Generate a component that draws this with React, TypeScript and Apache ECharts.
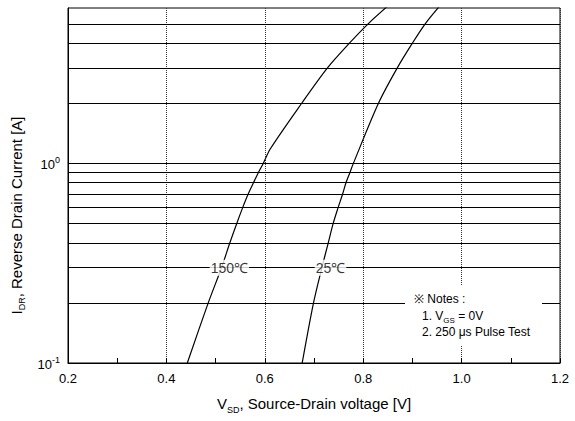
import React, { useEffect, useRef } from "react";
import * as echarts from "echarts";

// Curve data: [V_SD (V), I_DR (A)]
const curve150C: [number, number][] = [
  [0.4425, 0.1], [0.485, 0.2], [0.512, 0.3], [0.529, 0.4], [0.543, 0.5], [0.555, 0.6],
  [0.566, 0.7], [0.577, 0.8], [0.587, 0.9], [0.597, 1.0], [0.611, 1.18], [0.675, 2.0],
  [0.727, 3.0], [0.772, 4.0], [0.81, 5.0], [0.848, 6.08],
];
const curve25C: [number, number][] = [
  [0.676, 0.1], [0.699, 0.2], [0.716, 0.3], [0.729, 0.4], [0.739, 0.5], [0.749, 0.6],
  [0.758, 0.7], [0.765, 0.8], [0.773, 0.9], [0.78, 1.0], [0.831, 2.0],
  [0.869, 3.0], [0.9, 4.0], [0.926, 5.0], [0.954, 6.08],
];
const hGridValues = [0.2, 0.3, 0.4, 0.5, 0.6, 0.7, 0.8, 0.9, 1, 2, 3, 4, 5];
const curveLabels: [number, number, string][] = [
  [0.528, 0.3, "150℃"],
  [0.7335, 0.3, "25℃"],
];
const xMin = 0.2, xMax = 1.2, xStep = 0.2;
const yMin = 0.1, yMax = 6;

const FONT = "'Liberation Sans', Arial, sans-serif";

export default function App() {
  const ref = useRef<HTMLDivElement>(null);
  useEffect(() => {
    if (!ref.current) return;
    const chart = echarts.init(ref.current, undefined, { renderer: "svg" });
    const curveLine = { color: "#000", width: 1.2 };
    chart.setOption({
      animation: false,
      backgroundColor: "#fff",
      textStyle: { fontFamily: FONT },
      grid: { left: 68, top: 8, right: 15, bottom: 58, show: true, borderColor: "#000", borderWidth: 1, backgroundColor: "transparent" },
      xAxis: {
        type: "value", min: xMin, max: xMax, interval: xStep,
        axisLine: { show: true, lineStyle: { color: "#000", width: 1 } },
        axisTick: { show: true, inside: true, length: 5, lineStyle: { color: "#000" } },
        minorTick: { show: true, splitNumber: 2, length: 5, lineStyle: { color: "#000" } },
        splitLine: { show: true, lineStyle: { color: "#333", type: "dotted", width: 1 } },
        axisLabel: { color: "#000", fontSize: 13, margin: 9, fontFamily: FONT, formatter: (v: number) => v.toFixed(1) },
        name: "{m|V}{s|SD}{m|, Source-Drain voltage [V]}",
        nameLocation: "middle", nameGap: 30,
        nameTextStyle: {
          color: "#000",
          rich: {
            m: { fontSize: 15, fontFamily: FONT, color: "#000", verticalAlign: "bottom", lineHeight: 18 },
            s: { fontSize: 9, fontFamily: FONT, color: "#000", verticalAlign: "bottom", lineHeight: 18, padding: [0, 0, -3, 0] },
          },
        },
      },
      yAxis: {
        type: "log", logBase: 10, min: yMin, max: yMax,
        axisLine: { show: true, lineStyle: { color: "#000", width: 1 } },
        axisTick: { show: false },
        splitLine: { show: false },
        axisLabel: {
          margin: 8,
          formatter: (v: number) => {
            const e = Math.log10(v);
            if (Math.abs(e - Math.round(e)) > 1e-6) return "";
            return "{b|10}{p|" + Math.round(e) + "}";
          },
          rich: {
            b: { fontSize: 13, fontFamily: FONT, color: "#000", verticalAlign: "bottom", lineHeight: 16 },
            p: { fontSize: 9, fontFamily: FONT, color: "#000", verticalAlign: "top", lineHeight: 16, padding: [0, 0, 8, 0] },
          },
        },
        name: "{m|I}{s|DR}{m|, Reverse Drain Current [A]}",
        nameLocation: "middle", nameGap: 34,
        nameTextStyle: {
          color: "#000",
          padding: [0, 60, 0, 0],
          rich: {
            m: { fontSize: 15, fontFamily: FONT, color: "#000", verticalAlign: "bottom", lineHeight: 18 },
            s: { fontSize: 9, fontFamily: FONT, color: "#000", verticalAlign: "bottom", lineHeight: 18, padding: [0, 0, -3, 0] },
          },
        },
      },
      series: [
        {
          type: "line", data: [], z: 1, silent: true,
          markLine: {
            silent: true, symbol: ["none", "none"], animation: false,
            label: { show: false },
            lineStyle: { color: "#000", type: "solid", width: 1 },
            emphasis: { disabled: true },
            data: hGridValues.map((v) => ({ yAxis: v })),
          },
        },
        { type: "line", data: curve150C, smooth: 0.3, showSymbol: false, symbol: "none", lineStyle: curveLine, z: 3, clip: true },
        { type: "line", data: curve25C, smooth: 0.3, showSymbol: false, symbol: "none", lineStyle: curveLine, z: 3, clip: true },
        {
          type: "scatter", data: curveLabels, symbolSize: 1, z: 6,
          itemStyle: { color: "rgba(0,0,0,0)" },
          label: {
            show: true, position: "inside", color: "#000", fontSize: 14, fontFamily: FONT,
            backgroundColor: "#fff", padding: [1, 1],
            formatter: (p: any) => p.data[2],
          },
        },
      ],
      graphic: [
        { type: "rect", z: 100, shape: { x: 405, y: 286, width: 137, height: 60 }, style: { fill: "#fff" } },
        { type: "text", z: 101, x: 414, y: 293, style: { text: "※ Notes :", fontSize: 12, fontFamily: FONT, fill: "#000" } },
        {
          type: "text", z: 101, x: 422, y: 309,
          style: {
            text: "{a|1. V}{s|GS}{a| = 0V}", fill: "#000",
            rich: {
              a: { fontSize: 12, fontFamily: FONT, fill: "#000", verticalAlign: "bottom", lineHeight: 13 },
              s: { fontSize: 8, fontFamily: FONT, fill: "#000", verticalAlign: "bottom", lineHeight: 13, padding: [0, 0, -2, 0] },
            },
          },
        },
        { type: "text", z: 101, x: 422, y: 326, style: { text: "2. 250 μs Pulse Test", fontSize: 12, fontFamily: FONT, fill: "#000" } },
      ],
    });
    return () => chart.dispose();
  }, []);
  return <div ref={ref} style={{ width: 575, height: 421, position: "absolute", left: 0, top: 0 }} />;
}
